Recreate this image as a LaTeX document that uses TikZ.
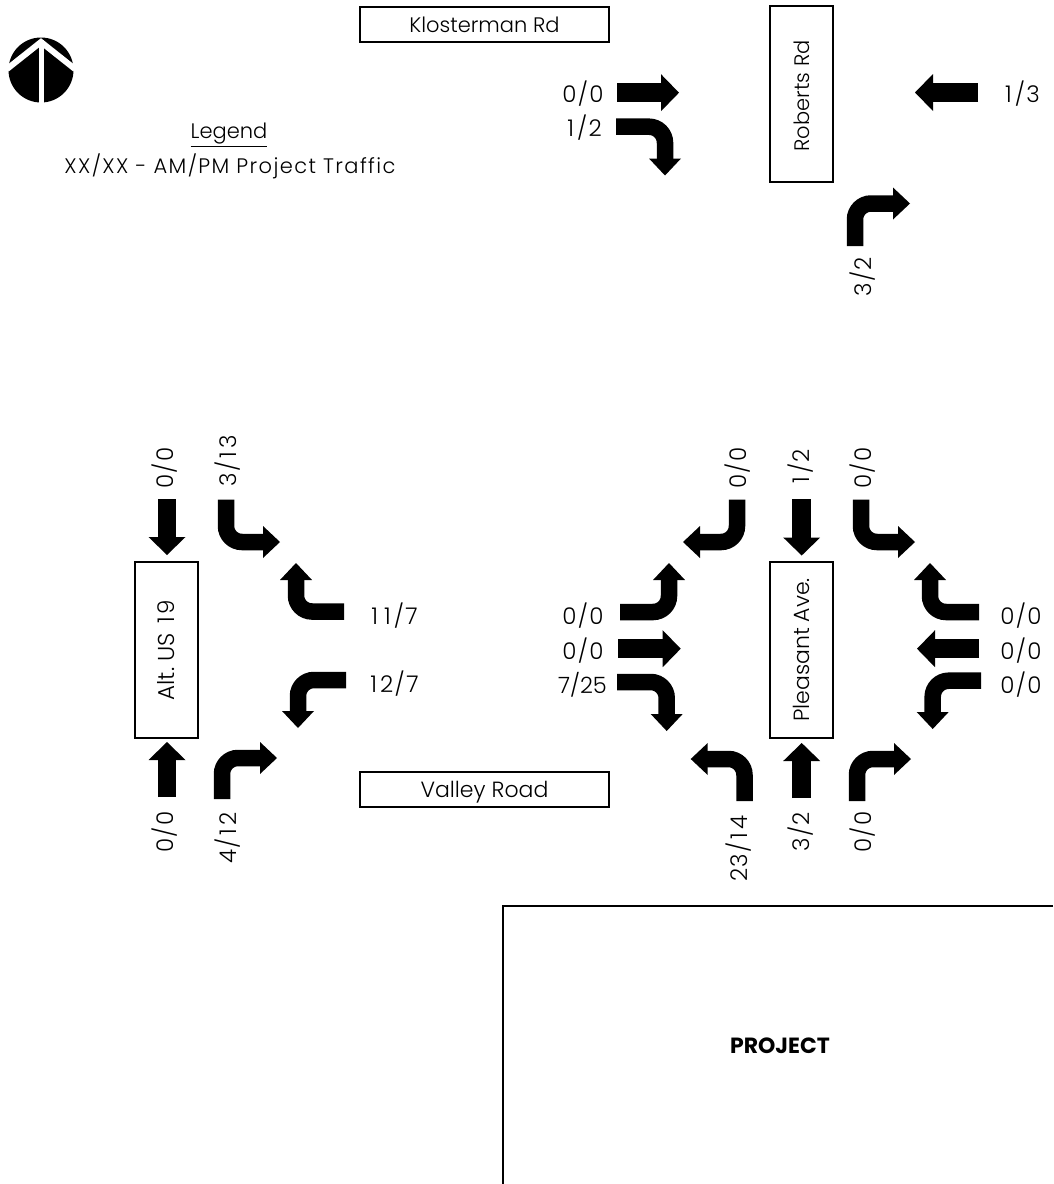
\documentclass[tikz,border=0pt]{standalone}
\usepackage{fontspec}
\setmainfont{Poppins}[UprightFont=* Light,BoldFont=* Bold]
\newfontface\volfont{Poppins Light}[LetterSpace=6]
\newfontface\legfont{Poppins Light}[LetterSpace=6.6]
\usetikzlibrary{calc}
\newcommand\wone{\kern3pt 1\kern3pt}
\tikzset{
  roadbox/.style={draw=black,line width=2pt,fill=white,minimum width=#1,minimum height=35pt,inner sep=0pt,font=\fontsize{21}{24}\selectfont},
  vbox/.style={roadbox=176pt,minimum height=63pt,rotate=90},
  vol/.style={inner sep=0pt,font=\fontsize{23}{26}\volfont},
  legendtext/.style={inner sep=0pt,font=\fontsize{21}{24}\legfont},
}
\newcommand\turnarrow[6]{%
  \coordinate (ta) at (#1,#2);\coordinate (tc) at (#3,#4);\coordinate (tt) at (#5,#6);
  \coordinate (tb) at ($(tt)!17pt!(tc)$);
  \coordinate (te) at ($(tt)!16pt!(tc)$);
  \draw[line width=16.5pt,rounded corners=16pt] (ta) -- (tc) -- (te);
  \fill ($(tb)!16pt!90:(tt)$) -- (tt) -- ($(tb)!16pt!-90:(tt)$) -- cycle;}
\newcommand\strarrow[4]{%
  \coordinate (ta) at (#1,#2);\coordinate (tt) at (#3,#4);
  \coordinate (tb) at ($(tt)!18pt!(ta)$);
  \coordinate (te) at ($(tt)!17pt!(ta)$);
  \draw[line width=18.5pt] (ta) -- (te);
  \fill ($(tb)!18.5pt!90:(tt)$) -- (tt) -- ($(tb)!18.5pt!-90:(tt)$) -- cycle;}
\begin{document}
\begin{tikzpicture}[x=1pt,y=-1pt]
\useasboundingbox (0,0) rectangle (1053,1184);
% north symbol
\fill (41,70) circle (32.5);
\draw[white,line width=5pt] (41,104) -- (41,40);
\draw[white,line width=6pt,miter limit=10] (7,69) -- (41,42) -- (75,69);
% legend
\node[inner sep=0pt,font=\fontsize{21}{24}\selectfont] (leg1) at (229,135) {\underline{Legend}};
\node[legendtext] (leg2) at (230,166) {XX/XX - AM/PM Project Traffic};
% road labels
\node[roadbox=249pt] (klo) at (484.5,24.5) {Klosterman Rd};
\node[roadbox=249pt] (val) at (484.5,789) {\raisebox{-8pt}[0pt][0pt]{\fontsize{22}{24}\selectfont Valley Road}};
\node[vbox] (rob) at (801.5,94) {Roberts Rd\kern4pt};
\node[vbox,font=\fontsize{23}{26}\selectfont] (alt) at (166.5,650) {Alt.\ US\ \wone 9};
\node[vbox,font=\fontsize{22}{24}\selectfont] (ple) at (801.5,650) {Pleasant Ave.};
\draw[line width=2pt] (1053,906) -- (503,906) -- (503,1184);
\node[inner sep=0pt,font=\fontsize{22}{24}\selectfont\bfseries] (prj) at (780,1046) {PROJECT};
% volumes
\node[vol] (v1) at (583,94) {0/0};
\node[vol] (v2) at (583,128) {\wone/2};
\node[vol] (v3) at (1021,94) {\wone/3};
\node[vol,rotate=90] (v4) at (863,277) {3/2};
\node[vol,rotate=90] (v5) at (165,468) {0/0};
\node[vol,rotate=90] (v6) at (228,461) {3/\wone 3};
\node[vol] (v7) at (393,616) {\wone\wone/7};
\node[vol] (v8) at (393,684) {\wone 2/7};
\node[vol,rotate=90] (v9) at (165,832) {0/0};
\node[vol,rotate=90] (v10) at (228,838) {4/\wone 2};
\node[vol,rotate=90] (v11) at (738,468) {0/0};
\node[vol,rotate=90] (v12) at (801,468) {\wone/2};
\node[vol,rotate=90] (v13) at (863,468) {0/0};
\node[vol] (v14) at (583,616) {0/0};
\node[vol] (v15) at (583,651) {0/0};
\node[inner sep=0pt,font=\fontsize{22.5}{26}\selectfont] (v16) at (582.5,685) {7/25};
\node[vol] (v17) at (1021,616) {0/0};
\node[vol] (v18) at (1021,651) {0/0};
\node[vol] (v19) at (1021,685) {0/0};
\node[vol,rotate=90] (v20) at (739,848.5) {23/\wone 4};
\node[vol,rotate=90] (v21) at (801,832) {3/2};
\node[vol,rotate=90] (v22) at (863,832) {0/0};
% arrows: Roberts
\strarrow{617}{92.7}{679}{92.7}
\turnarrow{616}{126.7}{665}{126.7}{665}{175.5}
\strarrow{978}{92.5}{915}{92.5}
\turnarrow{855}{246}{855}{203.5}{910}{203.5}
% arrows: Alt US 19
\strarrow{167}{499}{167}{555}
\strarrow{167}{797}{167}{742}
\turnarrow{226}{499.5}{226}{542}{280}{542}
\turnarrow{344}{611.5}{296}{611.5}{296}{563}
\turnarrow{346}{680}{298}{680}{298}{728}
\turnarrow{222}{799}{222}{758}{277}{758}
% arrows: Pleasant
\turnarrow{737}{499.5}{737}{542}{683}{542}
\strarrow{801.7}{499}{801.7}{555.5}
\turnarrow{861}{499.5}{861}{542}{915}{542}
\turnarrow{979}{612}{930}{612}{930}{563}
\strarrow{979}{648.7}{917}{648.7}
\turnarrow{981}{680.7}{932.7}{680.7}{932.7}{729}
\turnarrow{857}{801}{857}{759}{911}{759}
\strarrow{801.7}{798}{801.7}{743}
\turnarrow{744.5}{801}{744.5}{759}{690.7}{759}
\turnarrow{620}{612}{669}{612}{669}{563}
\strarrow{618}{648.7}{680.7}{648.7}
\turnarrow{617}{682}{666.7}{682}{666.7}{731}
\end{tikzpicture}
\end{document}
